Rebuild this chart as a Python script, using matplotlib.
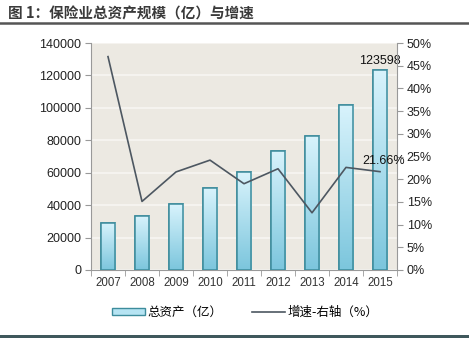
import matplotlib
matplotlib.use("Agg")
import matplotlib.pyplot as plt
import numpy as np
from matplotlib.lines import Line2D
from matplotlib.patches import Patch
from matplotlib.colors import LinearSegmentedColormap

plt.rcParams['font.family'] = ['Liberation Sans', 'Noto Sans CJK SC', 'DejaVu Sans']

years = ['2007', '2008', '2009', '2010', '2011', '2012', '2013', '2014', '2015']
assets = [29004, 33418, 40635, 50481, 60138, 73546, 82887, 101591, 123598]
growth = [47.0, 15.1, 21.6, 24.2, 19.0, 22.3, 12.6, 22.6, 21.66]
left_ticks = [0, 20000, 40000, 60000, 80000, 100000, 120000, 140000]
right_ticks = [0, 5, 10, 15, 20, 25, 30, 35, 40, 45, 50]
title = '图 1：保险业总资产规模（亿）与增速'
bar_label = '总资产（亿）'
line_label = '增速-右轴（%）'

fig = plt.figure(figsize=(4.69, 3.38), dpi=100)
fig.patch.set_facecolor('white')
ax = fig.add_axes([91/469, 1-270/338, 306/469, 227/338])
ax.set_facecolor('#ECE9E2')

x = np.arange(len(years))
bars = ax.bar(x, assets, width=0.43, facecolor='#a8def0', edgecolor='#3d8c9c',
              linewidth=1.1, zorder=3)
grad = np.linspace(0, 1, 100).reshape(-1, 1)
cmap = LinearSegmentedColormap.from_list('g', ['#7cc6dd', '#d8f3fc'])
for b in bars:
    im = ax.imshow(grad, cmap=cmap, origin='lower', aspect='auto',
                   extent=[b.get_x(), b.get_x()+b.get_width(), 0, b.get_height()],
                   zorder=3.5)
    im.set_clip_path(b)
    b2 = plt.Rectangle((b.get_x(), 0), b.get_width(), b.get_height(), fill=False,
                       edgecolor='#3d8c9c', linewidth=1.1, zorder=4)
    ax.add_patch(b2)

ax.set_xlim(-0.5, len(years)-0.5)
ax.set_ylim(0, 140000)
ax.set_yticks(left_ticks)
ax.set_yticklabels([str(v) for v in left_ticks], fontsize=9, color='#222222')
ax.set_xticks(x)
ax.set_xticklabels(years, fontsize=8.3, color='#333333')
ax.set_xticks(np.arange(len(years)+1)-0.5, minor=True)
ax.tick_params(axis='x', which='major', length=0, pad=5)
ax.tick_params(axis='x', which='minor', length=4, color='#999999', direction='out')
ax.tick_params(axis='y', length=4, color='#999999', direction='out', pad=3)
ax.grid(axis='y', color='#F7F6F2', linewidth=1.2, zorder=0)
ax.set_axisbelow(True)
for s in ['top', 'right']:
    ax.spines[s].set_visible(False)
ax.spines['left'].set_color('#999999')
ax.spines['bottom'].set_color('#999999')

ax2 = ax.twinx()
ax2.plot(x, growth, color='#4d5761', linewidth=1.2, zorder=5)
ax2.set_ylim(0, 50)
ax2.set_yticks(right_ticks)
ax2.set_yticklabels([f'{v}%' for v in right_ticks], fontsize=9, color='#222222')
ax2.tick_params(axis='y', length=4, color='#999999', direction='out', pad=3)
for s in ['top', 'left', 'bottom']:
    ax2.spines[s].set_visible(False)
ax2.spines['right'].set_color('#999999')

ax.annotate(f'{assets[-1]}', (x[-1], assets[-1]), xytext=(0, 2),
            textcoords='offset points', ha='center', va='bottom', fontsize=9,
            color='#111111', zorder=6)
ax2.annotate(f'{growth[-1]:.2f}%', (x[-1], growth[-1]), xytext=(-13, 3),
             textcoords='offset points', ha='left', va='bottom', fontsize=9,
             color='#111111', zorder=6)

fig.text(8/469, 1-13/338, title, fontsize=10.5, fontweight='bold', color='#3a3a3a',
         ha='left', va='center', family=['Noto Sans CJK SC', 'DejaVu Sans'])
fig.add_artist(Line2D([0, 1], [1-22.5/338, 1-22.5/338], color='#555555', linewidth=1.8,
                      transform=fig.transFigure))
fig.add_artist(plt.Rectangle((0, 0), 1, 3.5/338, transform=fig.transFigure,
                             facecolor='#3f585c', edgecolor='none'))

handles = [Patch(facecolor='#b6e4f3', edgecolor='#3d8c9c', linewidth=1.0),
           Line2D([0], [0], color='#4d5761', linewidth=1.2)]
fig.legend(handles, [bar_label, line_label], loc='center', bbox_to_anchor=(245/469, 1-312/338),
           ncol=2, frameon=False, handlelength=2.6, handleheight=0.5,
           columnspacing=2.4, handletextpad=0.2,
           prop={'family': ['Noto Sans CJK SC', 'DejaVu Sans'], 'size': 9})

fig.savefig('out.png', dpi=100, facecolor='white')
